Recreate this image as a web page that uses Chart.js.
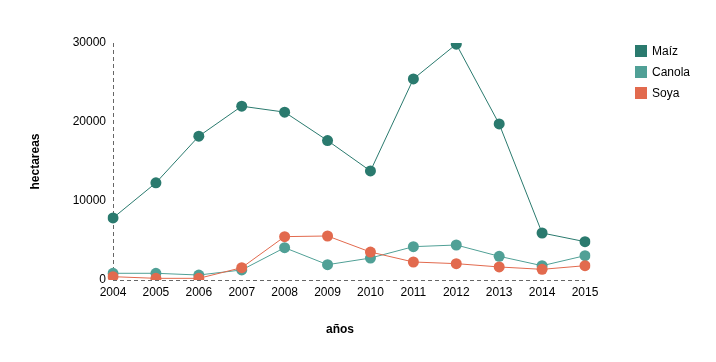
<!DOCTYPE html>
<html>
<head>
<meta charset="utf-8">
<script src="https://cdn.jsdelivr.net/npm/chart.js@4/dist/chart.umd.min.js"></script>
<style>
  body { margin: 0; background: #fff; font-family: "Liberation Sans", Arial, sans-serif; }
  .chart-wrapper { position: relative; width: 716px; height: 362px; }
  .legend { position: absolute; left: 635px; top: 40px; font-size: 12px; color: #000; }
  .legend-item { display: flex; align-items: center; height: 21px; }
  .legend-box { width: 12px; height: 12px; margin-right: 5px; }
</style>
</head>
<body>
<div class="chart-wrapper">
  <canvas id="chart" width="716" height="362"></canvas>
  <div class="legend" id="legend"></div>
</div>
<script>
// Data
const years = ['2004', '2005', '2006', '2007', '2008', '2009', '2010', '2011', '2012', '2013', '2014', '2015'];
const maiz = [7850, 12300, 18200, 22000, 21250, 17650, 13800, 25450, 29850, 19750, 5950, 4850];
const canola = [850, 850, 630, 1270, 4090, 1940, 2780, 4220, 4430, 3000, 1810, 3080];
const soya = [420, 210, 210, 1560, 5490, 5570, 3540, 2280, 2070, 1650, 1350, 1810];
const yTicks = [0, 10000, 20000, 30000];

const colors = {
  maiz: 'rgb(42, 122, 110)',
  canola: 'rgb(80, 160, 150)',
  soya: 'rgb(226, 106, 78)'
};

const series = [
  { label: 'Maíz', data: maiz, color: colors.maiz, order: 2 },
  { label: 'Canola', data: canola, color: colors.canola, order: 1 },
  { label: 'Soya', data: soya, color: colors.soya, order: 0 }
];

const font = { family: '"Liberation Sans", Arial, sans-serif', size: 12 };

// Dashed axis lines (Chart.js border.dash only affects grid lines)
const dashedAxes = {
  id: 'dashedAxes',
  beforeDatasetsDraw(chart) {
    const { ctx, chartArea } = chart;
    ctx.save();
    ctx.strokeStyle = '#666';
    ctx.lineWidth = 1;
    ctx.setLineDash([4, 3]);
    ctx.beginPath();
    ctx.moveTo(chartArea.left + 0.5, chartArea.top);
    ctx.lineTo(chartArea.left + 0.5, chartArea.bottom);
    ctx.moveTo(chartArea.left, chartArea.bottom + 0.5);
    ctx.lineTo(chartArea.right, chartArea.bottom + 0.5);
    ctx.stroke();
    ctx.restore();
  }
};

// Axis titles drawn around the chart area
const axisTitles = {
  id: 'axisTitles',
  afterDraw(chart) {
    const { ctx, chartArea } = chart;
    ctx.save();
    ctx.fillStyle = '#000';
    ctx.font = 'bold 12px "Liberation Sans", Arial, sans-serif';
    ctx.textAlign = 'center';
    ctx.textBaseline = 'middle';
    ctx.fillText('años', (chartArea.left + chartArea.right) / 2 - 9, 330);
    ctx.translate(36, (chartArea.top + chartArea.bottom) / 2);
    ctx.rotate(-Math.PI / 2);
    ctx.fillText('hectareas', 0, 0);
    ctx.restore();
  }
};

const ctx = document.getElementById('chart').getContext('2d');
new Chart(ctx, {
  type: 'line',
  data: {
    labels: years,
    datasets: series.map(s => ({
      label: s.label,
      data: s.data,
      order: s.order,
      borderColor: s.color,
      backgroundColor: s.color,
      borderWidth: 1,
      pointRadius: 5.5,
      pointHoverRadius: 5.5,
      pointBorderWidth: 0,
      tension: 0,
      fill: false
    }))
  },
  options: {
    responsive: false,
    animation: false,
    events: [],
    layout: {
      padding: { top: 43, right: 131, bottom: 0, left: 0 }
    },
    plugins: {
      legend: { display: false },
      tooltip: { enabled: false }
    },
    scales: {
      x: {
        offset: false,
        grid: { display: false, drawTicks: false },
        border: { display: false },
        ticks: { color: '#000', font: font, padding: 5, maxRotation: 0, autoSkip: false },
        afterFit(scale) { scale.height = 82; }
      },
      y: {
        min: 0,
        max: 30000,
        grid: { display: false, drawTicks: false },
        border: { display: false },
        ticks: {
          color: '#000',
          font: font,
          padding: 7,
          callback: value => String(value)
        },
        afterBuildTicks(scale) { scale.ticks = yTicks.map(v => ({ value: v })); },
        afterFit(scale) { scale.width = 113; }
      }
    }
  },
  plugins: [dashedAxes, axisTitles]
});

// HTML legend
const legend = document.getElementById('legend');
series.forEach(s => {
  const item = document.createElement('div');
  item.className = 'legend-item';
  item.innerHTML = '<span class="legend-box" style="background:' + s.color + '"></span><span>' + s.label + '</span>';
  legend.appendChild(item);
});
</script>
</body>
</html>
